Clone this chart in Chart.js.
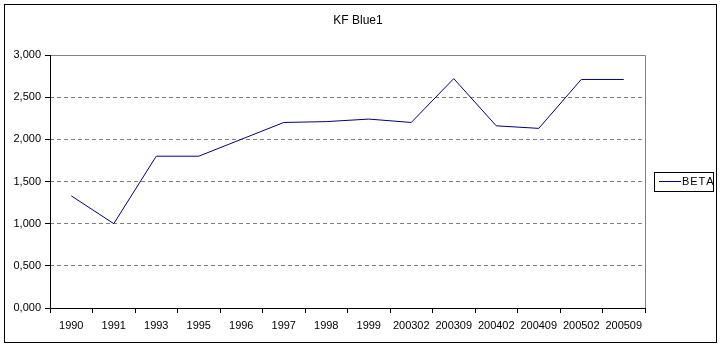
<!DOCTYPE html>
<html>
<head>
<meta charset="utf-8">
<script src="https://cdn.jsdelivr.net/npm/chart.js@4"></script>
<style>
html,body{margin:0;padding:0;background:#fff;}
#wrap{position:relative;width:722px;height:348px;}
</style>
</head>
<body>
<div id="wrap"><canvas id="c" width="722" height="348"></canvas></div>
<script>
const chartTitle = 'KF Blue1';
const seriesName = 'BETA';
const categories = ['1990','1991','1993','1995','1996','1997','1998','1999','200302','200309','200402','200409','200502','200509'];
const betaValues = [1.33, 1.00, 1.80, 1.80, 2.00, 2.20, 2.21, 2.24, 2.20, 2.72, 2.16, 2.13, 2.71, 2.71];
const yTicks = [0, 0.5, 1, 1.5, 2, 2.5, 3];

const FONT = '"Liberation Sans", Arial, sans-serif';

const decor = {
  id: 'decor',
  afterDraw(chart) {
    const ctx = chart.ctx;
    const a = chart.chartArea;
    ctx.save();
    // plot border (grey)
    ctx.strokeStyle = '#808080';
    ctx.lineWidth = 1;
    ctx.setLineDash([]);
    ctx.beginPath();
    ctx.moveTo(Math.round(a.left) + 0.5, Math.round(a.top) + 0.5);
    ctx.lineTo(Math.round(a.right) + 0.5, Math.round(a.top) + 0.5);
    ctx.lineTo(Math.round(a.right) + 0.5, Math.round(a.bottom) + 0.5);
    ctx.stroke();
    // axes (black)
    ctx.strokeStyle = '#000';
    ctx.beginPath();
    ctx.moveTo(Math.round(a.left) + 0.5, Math.round(a.top));
    ctx.lineTo(Math.round(a.left) + 0.5, Math.round(a.bottom) + 0.5);
    ctx.lineTo(Math.round(a.right) + 1, Math.round(a.bottom) + 0.5);
    ctx.stroke();
    // outer border
    ctx.strokeRect(4.5, 4.5, 712, 338);
    // title
    ctx.fillStyle = '#000';
    ctx.font = '12px ' + FONT;
    ctx.textAlign = 'center';
    ctx.textBaseline = 'middle';
    ctx.fillText(chartTitle, 358, 21);
    // legend
    const ds = chart.data.datasets[0];
    ctx.strokeStyle = '#000';
    ctx.strokeRect(654.5, 172.5, 59, 19);
    ctx.strokeStyle = ds.borderColor;
    ctx.beginPath();
    ctx.moveTo(659, 181.5);
    ctx.lineTo(681, 181.5);
    ctx.stroke();
    ctx.fillStyle = '#000';
    ctx.font = '11px ' + FONT;
    ctx.textAlign = 'left';
    ctx.fillText(ds.label.split('').join('\u200A'), 682, 182);
    ctx.restore();
  }
};

new Chart(document.getElementById('c'), {
  type: 'line',
  data: {
    labels: categories,
    datasets: [{
      label: seriesName,
      data: betaValues,
      borderColor: '#000080',
      borderWidth: 1,
      pointRadius: 0,
      tension: 0,
      fill: false
    }]
  },
  options: {
    responsive: false,
    animation: false,
    devicePixelRatio: 1,
    layout: { padding: { left: 4, top: 55, right: 77, bottom: 0 } },
    plugins: { legend: { display: false }, tooltip: { enabled: false }, title: { display: false } },
    scales: {
      x: {
        type: 'category',
        offset: true,
        grid: { offset: true, drawOnChartArea: false, drawTicks: true, tickLength: 5, color: '#000', lineWidth: 1 },
        border: { display: false },
        ticks: { color: '#000', font: { family: FONT, size: 11 }, padding: 6, maxRotation: 0, autoSkip: false },
        afterFit(s) { s.height = 40; }
      },
      y: {
        min: 0, max: 3,
        afterBuildTicks(s) { s.ticks = yTicks.map(v => ({ value: v })); },
        grid: { color: '#808080', lineWidth: 1, drawTicks: true, tickLength: 5, tickColor: '#000', tickBorderDash: [] },
        border: { display: false, dash: [4, 3] },
        ticks: {
          color: '#000', font: { family: FONT, size: 11 }, padding: 4,
          callback: v => v.toFixed(3).replace('.', ',').replace(/^(\d)(\d{3})/, '$1,$2')
        },
        afterFit(s) { s.width = 46; }
      }
    }
  },
  plugins: [decor]
});
</script>
</body>
</html>
